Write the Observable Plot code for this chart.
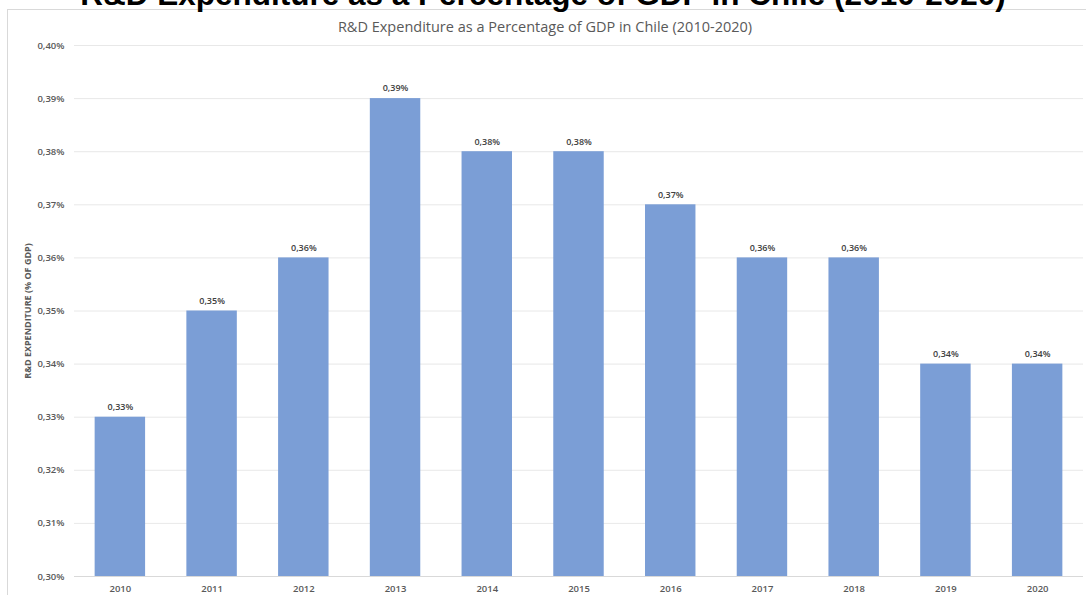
<!DOCTYPE html>
<html>
<head>
<meta charset="utf-8">
<script src="https://cdn.jsdelivr.net/npm/d3@7"></script>
<script src="https://cdn.jsdelivr.net/npm/@observablehq/plot@0.6"></script>
<style>
  html, body { margin: 0; padding: 0; background: #fff; overflow: hidden; }
  #wrap { position: relative; width: 1086px; height: 595px; overflow: hidden; background: #fff; }
  #frame { position: absolute; left: 7px; top: 9px; width: 1200px; height: 700px;
           border-left: 1px solid #d9d9d9; border-top: 1px solid #d9d9d9; box-sizing: border-box; }
  #bigtitle { position: absolute; left: 0; top: -24px; width: 1086px; text-align: center;
              font: bold 31.5px "Liberation Sans", Arial, sans-serif; line-height: 36px; color: #000; white-space: nowrap; }
  #subtitle { position: absolute; left: 0; top: 17px; width: 1090px; text-align: center;
              font: 14.5px "Open Sans", sans-serif; line-height: 20px; color: #595959; white-space: nowrap; }
  #chart { position: absolute; left: 0; top: 0; }
</style>
</head>
<body>
<div id="wrap">
  <div id="frame"></div>
  <div id="chart"></div>
  <div id="subtitle">R&amp;D Expenditure as a Percentage of GDP in Chile (2010-2020)</div>
  <div id="bigtitle">R&amp;D Expenditure as a Percentage of GDP in Chile (2010-2020)</div>
</div>
<script>
const years = ["2010","2011","2012","2013","2014","2015","2016","2017","2018","2019","2020"];
const values = [0.33, 0.35, 0.36, 0.39, 0.38, 0.38, 0.37, 0.36, 0.36, 0.34, 0.34];
const yTicks = [0.30, 0.31, 0.32, 0.33, 0.34, 0.35, 0.36, 0.37, 0.38, 0.39, 0.40];
const yLabel = "R&D EXPENDITURE (% OF GDP)";

const data = years.map((y, i) => ({year: y, value: values[i]}));
const fmt = d => d.toFixed(2).replace(".", ",") + "%";

const chart = Plot.plot({
  width: 1086,
  height: 595,
  marginLeft: 74,
  marginRight: 3,
  marginTop: 45,
  marginBottom: 19,
  style: {fontFamily: "'Open Sans', sans-serif", background: "transparent", overflow: "visible"},
  x: {domain: years, paddingInner: 0.45, paddingOuter: 0.225, round: false, label: null},
  y: {domain: [0.30, 0.40], label: null},
  marks: [
    Plot.gridY(yTicks, {stroke: "#d9d9d9", strokeOpacity: 0.6}),
    Plot.barY(data, {x: "year", y1: 0.30, y2: "value", fill: "#7b9ed6"}),
    Plot.ruleY([0.30], {stroke: "#d9d9d9", strokeWidth: 1}),
    Plot.text(data, {x: "year", y: "value", text: d => fmt(d.value), dy: -10,
      fill: "#404040", fontSize: 9, fontWeight: 600}),
    Plot.axisY(yTicks, {tickSize: 0, tickPadding: 10, tickFormat: fmt, fill: "#595959",
      fontSize: 9.5, fontWeight: 600, label: null}),
    Plot.axisX({tickSize: 0, tickPadding: 9, fill: "#595959", fontSize: 9.5, fontWeight: 600, label: null}),
    Plot.text([yLabel], {frameAnchor: "left", dx: -46, rotate: -90, textAnchor: "middle",
      fill: "#595959", fontSize: 9, fontWeight: 700})
  ]
});
document.getElementById("chart").appendChild(chart);
</script>
</body>
</html>
